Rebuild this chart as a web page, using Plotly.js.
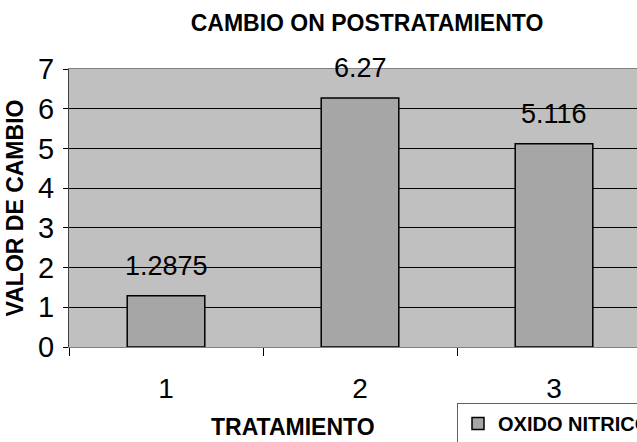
<!DOCTYPE html>
<html>
<head>
<meta charset="utf-8">
<script src="https://cdn.plot.ly/plotly-3.0.1.min.js"></script>
<style>
html,body{margin:0;padding:0;overflow:hidden;background:#fff;width:637px;height:442px;}
#chart{width:690px;height:442px;}
</style>
</head>
<body>
<div id="chart"></div>
<script>
var categories = ['1', '2', '3'];
var values = [1.2875, 6.27, 5.116];
var valueLabels = ['1.2875', '6.27', '5.116'];
var seriesName = 'OXIDO NITRICO';
var yTicks = [0, 1, 2, 3, 4, 5, 6, 7];

var W = 690, H = 442;
var L = 69, R = W - 651, T = 69, B = H - 347;

var trace = {
  type: 'bar',
  x: categories,
  y: values,
  name: seriesName,
  marker: {color: '#a6a6a6', line: {color: '#000000', width: 1.5}},
  hoverinfo: 'x+y'
};

var annotations = categories.map(function (c, i) {
  return {
    x: i, y: values[i], xref: 'x', yref: 'y',
    text: valueLabels[i], showarrow: false,
    yanchor: 'bottom', yshift: 13,
    font: {family: '"Liberation Sans Narrow", "Liberation Sans", Arial, sans-serif', size: 27, color: '#000'}
  };
});
annotations.push({
  xref: 'paper', yref: 'paper', x: (293 - L) / 582, y: (347 - 427) / 278,
  text: '<b>TRATAMIENTO</b>', showarrow: false, xanchor: 'center', yanchor: 'middle',
  font: {family: '"Liberation Sans", Arial, sans-serif', size: 23, color: '#000'}
});

var layout = {
  width: W, height: H,
  margin: {l: L, r: R, t: T, b: B, pad: 0, autoexpand: false},
  paper_bgcolor: '#ffffff',
  plot_bgcolor: '#c0c0c0',
  font: {family: '"Liberation Sans", Arial, sans-serif', color: '#000'},
  title: {
    text: '<b>CAMBIO ON POSTRATAMIENTO</b>',
    font: {family: '"Liberation Sans", Arial, sans-serif', size: 23, color: '#000'},
    xref: 'paper', x: (367 - L) / 582, xanchor: 'center',
    yref: 'container', y: 1 - 23 / H, yanchor: 'middle'
  },
  bargap: 0.6,
  showlegend: true,
  legend: {
    x: (457 - L) / 582, xanchor: 'left', xref: 'paper',
    y: (347 - 403) / 278, yanchor: 'top', yref: 'paper',
    bgcolor: '#ffffff', bordercolor: '#606060', borderwidth: 1,
    font: {family: '"Liberation Sans", Arial, sans-serif', size: 20, color: '#000', weight: 'bold'}
  },
  xaxis: {
    type: 'category',
    range: [-0.5, 2.5],
    tickson: 'boundaries',
    ticks: 'outside', ticklen: 8, tickcolor: '#000', tickwidth: 1,
    showline: true, linecolor: '#808080', linewidth: 1, mirror: true,
    showgrid: false,
    tickfont: {family: '"Liberation Sans", Arial, sans-serif', size: 28, color: '#000'},
    ticklabelstandoff: 16,
    automargin: false,
    fixedrange: true
  },
  yaxis: {
    range: [0, 7],
    tickvals: yTicks,
    ticktext: yTicks.map(String),
    ticks: 'outside', ticklen: 5, tickcolor: '#000', tickwidth: 1,
    showline: true, linecolor: '#404040', linewidth: 1,
    showgrid: true, gridcolor: '#000000', gridwidth: 1,
    zeroline: true, zerolinecolor: '#000000', zerolinewidth: 1,
    tickfont: {family: '"Liberation Sans", Arial, sans-serif', size: 29, color: '#000'},
    ticklabelstandoff: 3,
    title: {
      text: '<b>VALOR DE CAMBIO</b>',
      font: {family: '"Liberation Sans", Arial, sans-serif', size: 23, color: '#000'},
      standoff: 8
    },
    automargin: false,
    fixedrange: true
  },
  annotations: annotations
};

Plotly.newPlot('chart', [trace], layout, {displayModeBar: false, staticPlot: true});
</script>
</body>
</html>
